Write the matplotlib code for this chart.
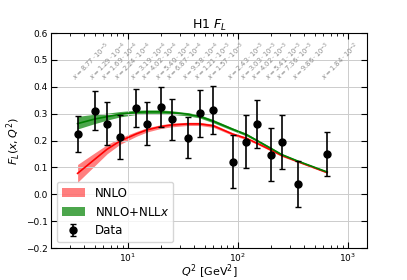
import matplotlib
matplotlib.use("Agg")
import matplotlib.pyplot as plt
import numpy as np

# Data (H1 F_L)
q2 = [3.5, 5, 6.5, 8.5, 12, 15, 20, 25, 35, 45, 60, 90, 120, 150, 200, 250, 350, 650]
xbj = ["8.77 \\cdot 10^{-5}", "1.29 \\cdot 10^{-4}", "1.69 \\cdot 10^{-4}", "2.24 \\cdot 10^{-4}",
       "3.19 \\cdot 10^{-4}", "4.02 \\cdot 10^{-4}", "5.40 \\cdot 10^{-4}", "6.87 \\cdot 10^{-4}",
       "9.58 \\cdot 10^{-4}", "1.21 \\cdot 10^{-3}", "1.57 \\cdot 10^{-3}", "2.43 \\cdot 10^{-3}",
       "3.03 \\cdot 10^{-3}", "4.02 \\cdot 10^{-3}", "5.41 \\cdot 10^{-3}", "7.36 \\cdot 10^{-3}",
       "9.86 \\cdot 10^{-3}", "1.84 \\cdot 10^{-2}"]
fl = [0.225, 0.311, 0.262, 0.213, 0.321, 0.263, 0.325, 0.279, 0.210, 0.301, 0.314,
      0.122, 0.196, 0.262, 0.148, 0.195, 0.038, 0.150]
fl_err = [0.067, 0.073, 0.080, 0.082, 0.070, 0.080, 0.073, 0.077, 0.076, 0.087, 0.090,
          0.098, 0.098, 0.088, 0.099, 0.100, 0.087, 0.083]

# Theory: NNLO
nnlo = [0.078, 0.130, 0.168, 0.198, 0.225, 0.240, 0.252, 0.258, 0.262, 0.262, 0.255,
        0.224, 0.208, 0.190, 0.165, 0.145, 0.122, 0.081]
nnlo_lo = [0.045, 0.106, 0.151, 0.186, 0.216, 0.232, 0.245, 0.251, 0.256, 0.256, 0.249,
           0.219, 0.203, 0.186, 0.161, 0.141, 0.119, 0.078]
nnlo_hi = [0.111, 0.154, 0.185, 0.210, 0.234, 0.248, 0.259, 0.265, 0.268, 0.268, 0.261,
           0.229, 0.213, 0.194, 0.169, 0.149, 0.125, 0.084]
# Theory: NNLO+NLLx
nllx = [0.263, 0.280, 0.289, 0.298, 0.305, 0.307, 0.307, 0.304, 0.298, 0.290, 0.272,
        0.242, 0.222, 0.200, 0.171, 0.148, 0.124, 0.083]
nllx_lo = [0.243, 0.263, 0.276, 0.288, 0.297, 0.300, 0.300, 0.297, 0.292, 0.284, 0.266,
           0.237, 0.217, 0.196, 0.167, 0.144, 0.121, 0.080]
nllx_hi = [0.290, 0.298, 0.302, 0.308, 0.313, 0.314, 0.314, 0.311, 0.304, 0.296, 0.278,
           0.247, 0.227, 0.204, 0.175, 0.152, 0.127, 0.086]

fig = plt.figure(figsize=(4.07, 2.80), dpi=100)
ax = fig.add_axes([0.125, 0.114, 0.777, 0.768])

ax.fill_between(q2, nnlo_lo, nnlo_hi, color="red", alpha=0.5, lw=0, label="NNLO")
ax.plot(q2, nnlo, color="red", lw=1.2)
ax.fill_between(q2, nllx_lo, nllx_hi, color="green", alpha=0.7, lw=0, label="NNLO+NLL$x$")
ax.plot(q2, nllx, color="green", lw=1.2)
ax.errorbar(q2, fl, yerr=fl_err, fmt="o", color="black", ms=5, capsize=2,
            elinewidth=1.2, capthick=1.0, label="Data", zorder=5)

for q, s in zip(q2, xbj):
    ax.text(q, 0.415, "$x = " + s + "$", rotation=45, rotation_mode="anchor",
            ha="left", va="bottom", fontsize=4.9, color="#8a8a8a")

ax.set_xscale("log")
ax.set_xlim(2, 1500)
ax.set_ylim(-0.2, 0.6)
ax.set_yticks(np.arange(-0.2, 0.61, 0.1))
ax.grid(True, which="major", color="#cccccc", lw=0.7)
ax.tick_params(which="both", direction="in", top=True, right=True, labelsize=6.5, pad=2.5)
ax.tick_params(which="major", length=4)
ax.tick_params(which="minor", length=2)
ax.set_xlabel("$Q^2$ [GeV$^2$]", fontsize=8, labelpad=-1)
ax.set_ylabel("$F_L(x, Q^2)$", fontsize=8, labelpad=2)
ax.set_title("H1 $F_L$", fontsize=9, pad=3)

h, l = ax.get_legend_handles_labels()
ax.legend(h, l, loc="lower left", fontsize=8.5, framealpha=0.8)

fig.savefig("out.png", dpi=100)
